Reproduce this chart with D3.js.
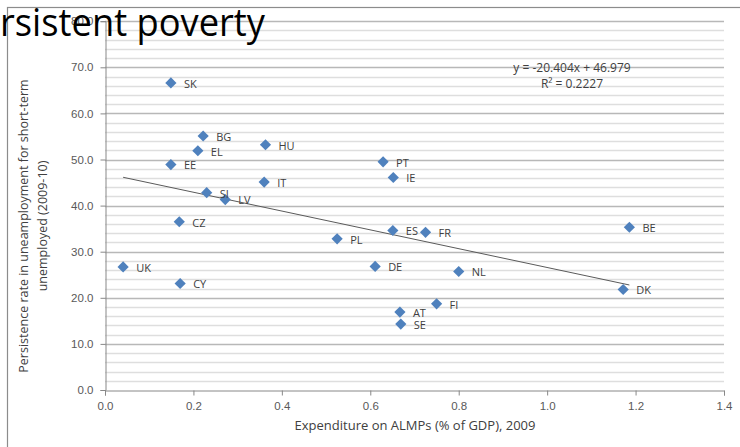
<!DOCTYPE html>
<html>
<head>
<meta charset="utf-8">
<script src="https://cdn.jsdelivr.net/npm/d3@7"></script>
<style>
  html, body { margin: 0; padding: 0; background: #fff; }
  svg { display: block; font-family: "Open Sans", "Noto Sans", sans-serif; }
</style>
</head>
<body>
<div id="chart-area"></div>
<script>
// country codes and values
const countries = ["SK", "BG", "EL", "EE", "HU", "PT", "IE", "IT", "SI", "LV", "CZ", "ES", "FR", "PL", "BE", "DE", "NL", "DK", "FI", "AT", "SE", "UK", "CY"]
// expenditure on ALMPs (% of GDP), 2009
const almp = [0.149, 0.222, 0.210, 0.149, 0.363, 0.629, 0.652, 0.360, 0.230, 0.272, 0.168, 0.651, 0.725, 0.525, 1.186, 0.611, 0.800, 1.172, 0.750, 0.667, 0.669, 0.041, 0.170]
// persistence rate in unemployment (2009-10)
const persistence = [66.6, 55.1, 51.9, 48.9, 53.2, 49.5, 46.1, 45.1, 42.8, 41.3, 36.5, 34.6, 34.2, 32.8, 35.3, 26.8, 25.7, 21.8, 18.7, 16.9, 14.3, 26.7, 23.1]

const xTicks = [0, 0.2, 0.4, 0.6, 0.8, 1.0, 1.2, 1.4]
const yTicks = [0, 10, 20, 30, 40, 50, 60, 70, 80]

// trend line from the chart
const slope = -20.404
const intercept = 46.979

const data = countries.map((c, i) => ({ name: c, x: almp[i], y: persistence[i] }))

const W = 740, H = 447

const svg = d3.select("#chart-area").append("svg")
    .attr("width", W)
    .attr("height", H)

// chart frame
svg.append("rect")
    .attr("x", 7.5).attr("y", 7.5)
    .attr("width", 800).attr("height", 500)
    .attr("fill", "none")
    .attr("stroke", "#8c8c8c")
    .attr("stroke-width", 1.2)

const x = d3.scaleLinear().domain([0, 1.4]).range([105, 724])
const y = d3.scaleLinear().domain([0, 80]).range([390, 21.2])

// minor gridlines every 2
const minor = d3.range(2, 80, 2).filter(v => v % 10 !== 0)
svg.append("g").selectAll("line")
    .data(minor)
    .enter().append("line")
    .attr("x1", x(0)).attr("x2", x(1.4))
    .attr("y1", d => Math.round(y(d)) + 0.5)
    .attr("y2", d => Math.round(y(d)) + 0.5)
    .attr("stroke", "#dedede")
    .attr("stroke-width", 1.3)

// major gridlines
svg.append("g").selectAll("line")
    .data(yTicks.filter(v => v > 0))
    .enter().append("line")
    .attr("x1", x(0)).attr("x2", x(1.4))
    .attr("y1", d => Math.round(y(d)) + 0.5)
    .attr("y2", d => Math.round(y(d)) + 0.5)
    .attr("stroke", "#b8b8b8")
    .attr("stroke-width", 1.3)

// axes
const xAxisCall = d3.axisBottom(x)
    .tickValues(xTicks)
    .tickSizeOuter(0)
    .tickSize(5)
    .tickFormat(d3.format(".1f"))

const xAxis = svg.append("g")
    .attr("transform", `translate(0, ${Math.round(y(0)) + 0.5})`)
    .call(xAxisCall)
xAxis.select(".domain").attr("stroke", "#888")
xAxis.selectAll(".tick line").attr("stroke", "#888")
xAxis.selectAll("text")
    .attr("fill", "#595959")
    .attr("font-size", "11.5px")
    .attr("y", 11)

const yAxisCall = d3.axisLeft(y)
    .tickValues(yTicks)
    .tickSizeOuter(0)
    .tickSize(5)
    .tickFormat(d3.format(".1f"))

const yAxis = svg.append("g")
    .attr("transform", `translate(${x(0) + 0.5}, 0)`)
    .call(yAxisCall)
yAxis.select(".domain").attr("stroke", "#888")
yAxis.selectAll(".tick line").attr("stroke", "#888")
yAxis.selectAll("text")
    .attr("fill", "#595959")
    .attr("font-size", "11.5px")
    .attr("x", -12)

// trend line over the data range
const xr = d3.extent(almp)
svg.append("line")
    .attr("x1", x(xr[0])).attr("y1", y(slope * xr[0] + intercept))
    .attr("x2", x(xr[1])).attr("y2", y(slope * xr[1] + intercept))
    .attr("stroke", "#5a5a5a")
    .attr("stroke-width", 1)

// diamond markers
const diamond = d3.symbol().type(d3.symbolDiamond2).size(80)
svg.append("g").selectAll("path")
    .data(data)
    .enter().append("path")
    .attr("d", diamond)
    .attr("transform", d => `translate(${x(d.x)}, ${y(d.y)})`)
    .attr("fill", "#4f81bd")

// country labels
svg.append("g").selectAll("text")
    .data(data)
    .enter().append("text")
    .attr("x", d => x(d.x) + 13)
    .attr("y", d => y(d.y) + 1)
    .attr("dy", "0.35em")
    .attr("font-size", "11px")
    .attr("fill", "#404040")
    .text(d => d.name)

// regression equation
svg.append("text")
    .attr("x", 572).attr("y", 72)
    .attr("text-anchor", "middle")
    .attr("font-size", "12px")
    .attr("fill", "#404040")
    .text("y = -20.404x + 46.979")
svg.append("text")
    .attr("x", 572).attr("y", 88)
    .attr("text-anchor", "middle")
    .attr("font-size", "12px")
    .attr("fill", "#404040")
    .text("R² = 0.2227")

// axis titles
svg.append("text")
    .attr("x", 415).attr("y", 430)
    .attr("text-anchor", "middle")
    .attr("font-size", "13px")
    .attr("fill", "#404040")
    .text("Expenditure on ALMPs (% of GDP), 2009")

const yLabel = svg.append("text")
    .attr("transform", "translate(0, 226) rotate(-90)")
    .attr("text-anchor", "middle")
    .attr("font-size", "12.5px")
    .attr("fill", "#404040")
yLabel.append("tspan").attr("x", 0).attr("y", 28)
    .text("Persistence rate in uneamployment for short-term")
yLabel.append("tspan").attr("x", 0).attr("y", 47)
    .text("unemployed (2009-10)")

// slide title over the chart (cut at the left edge)
svg.append("text")
    .attr("x", 0).attr("y", 36)
    .attr("font-size", "38px")
    .attr("fill", "#000")
    .attr("textLength", 265)
    .attr("lengthAdjust", "spacingAndGlyphs")
    .text("rsistent poverty")
</script>
</body>
</html>
